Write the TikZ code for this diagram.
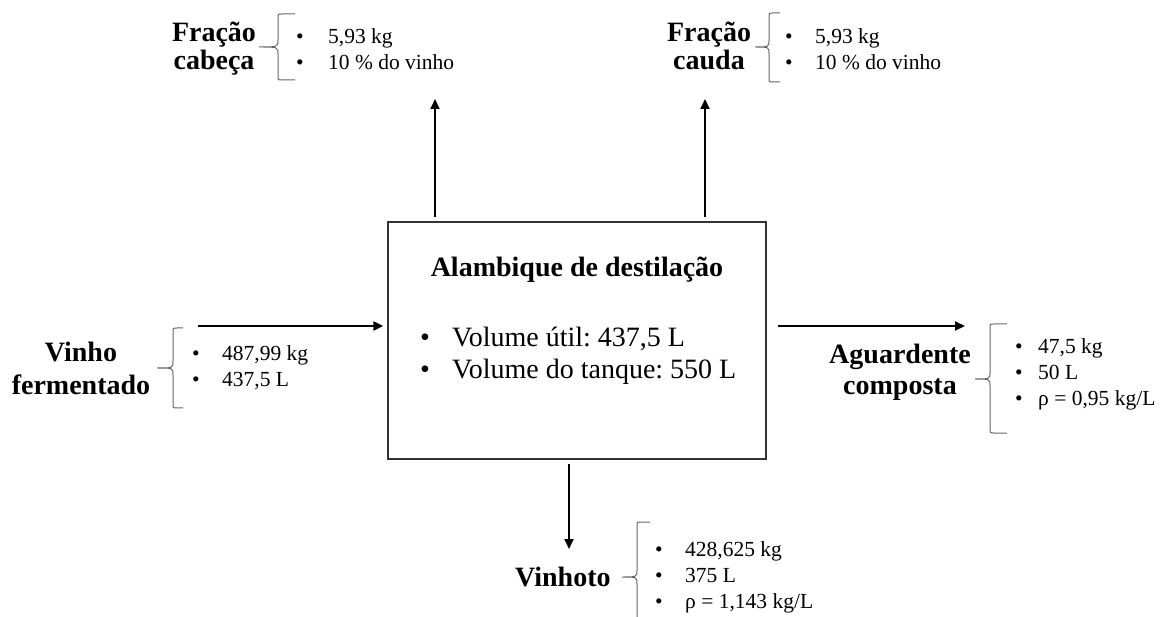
\documentclass[tikz,border=0pt]{standalone}
\usepackage{fontspec}
\setmainfont{Liberation Serif}
\usetikzlibrary{arrows.meta}
\frenchspacing
\newcommand\drawbrace[6]{% tip x, vertical x, end x, top y, mid y, bottom y
  \draw[brc] (#3,#4) -- ({#2+4},#4) .. controls (#2,#4) .. (#2,{#4+4})
    -- (#2,{#5-7}) .. controls (#2,#5) .. (#1,#5)
    .. controls (#2,#5) .. (#2,{#5+7})
    -- (#2,{#6-4}) .. controls (#2,#6) .. ({#2+4},#6) -- (#3,#6);}
\begin{document}
\begin{tikzpicture}[x=1pt,y=-1pt,
  big/.style={font=\fontsize{28}{32}\selectfont, inner sep=0pt, anchor=base west},
  bigb/.style={font=\fontsize{28}{32}\selectfont\bfseries, inner sep=0pt, anchor=base},
  small/.style={font=\fontsize{21.5}{26}\selectfont, inner sep=0pt, anchor=base west},
  arr/.style={line width=2pt, -{Triangle[length=10pt,width=9pt]}},
  brc/.style={draw=black!60, line width=1pt},
  boxst/.style={draw=black!80, line width=1.3pt}]
\useasboundingbox (0,0) rectangle (1170,617);

% main box
\node[boxst, minimum width=378pt, minimum height=237pt, inner sep=0pt] (box) at (577,340.5) {};
\node[bigb] (title) at (577,277) {Alambique de destilação};
\node[big] (bb1) at (420,347) {•};
\node[big] (bt1) at (452,347) {Volume útil: 437,5 L};
\node[big] (bb2) at (420,379) {•};
\node[big] (bt2) at (452,379) {Volume do tanque: 550 L};

% arrows
\coordinate (inS) at (198,326);
\draw[arr, shorten >=4pt] (inS) -- (inS -| box.west);
\coordinate (outE) at (965,326);
\draw[arr, shorten <=11pt] (outE -| box.east) -- (outE);
\coordinate (cabT) at (435,99);
\draw[arr, shorten <=4pt] (cabT |- box.north) -- (cabT);
\coordinate (cauT) at (705,99);
\draw[arr, shorten <=4pt] (cauT |- box.north) -- (cauT);
\coordinate (vinB) at (569,549);
\draw[arr, shorten <=4pt] (vinB |- box.south) -- (vinB);

% Fracao cabeca
\node[bigb] (cabA) at (214,42) {Fração};
\node[bigb] (cabB) at (214,70) {cabeça};
\drawbrace{259}{278}{295}{14}{47}{80}
\node[small] (cab1b) at (296,44) {•};
\node[small] (cab1t) at (328,44) {5,93 kg};
\node[small] (cab2b) at (296,70) {•};
\node[small] (cab2t) at (328,70) {10 \% do vinho};

% Fracao cauda
\node[bigb] (cauA) at (709,42) {Fração};
\node[bigb] (cauB) at (709,70) {cauda};
\drawbrace{755}{769}{780}{13}{47}{82}
\node[small] (cau1b) at (785,44) {•};
\node[small] (cau1t) at (815,44) {5,93 kg};
\node[small] (cau2b) at (785,70) {•};
\node[small] (cau2t) at (815,70) {10 \% do vinho};

% Vinho fermentado
\node[bigb] (vinA) at (81,362) {Vinho};
\node[bigb] (vinBt) at (81,395) {fermentado};
\drawbrace{157}{173}{183}{328}{368}{408}
\node[small] (vin1b) at (192,361) {•};
\node[small] (vin1t) at (222,361) {487,99 kg};
\node[small] (vin2b) at (192,387) {•};
\node[small] (vin2t) at (222,387) {437,5 L};

% Aguardente composta
\node[bigb] (agA) at (900,364) {Aguardente};
\node[bigb] (agB) at (900,395) {composta};
\drawbrace{975}{990}{1007}{324}{379}{433}
\node[small] (ag1b) at (1015,354) {•};
\node[small] (ag1t) at (1038,354) {47,5 kg};
\node[small] (ag2b) at (1015,380) {•};
\node[small] (ag2t) at (1038,380) {50 L};
\node[small] (ag3b) at (1015,406) {•};
\node[small] (ag3t) at (1038,406) {ρ = 0,95 kg/L};

% Vinhoto
\node[bigb, anchor=base west] (vhA) at (515,586) {Vinhoto};
\drawbrace{622}{637}{650}{522}{577}{632}
\node[small] (vh1b) at (655,556) {•};
\node[small] (vh1t) at (685,556) {428,625 kg};
\node[small] (vh2b) at (655,582) {•};
\node[small] (vh2t) at (685,582) {375 L};
\node[small] (vh3b) at (655,608) {•};
\node[small] (vh3t) at (685,608) {ρ = 1,143 kg/L};
\end{tikzpicture}
\end{document}
